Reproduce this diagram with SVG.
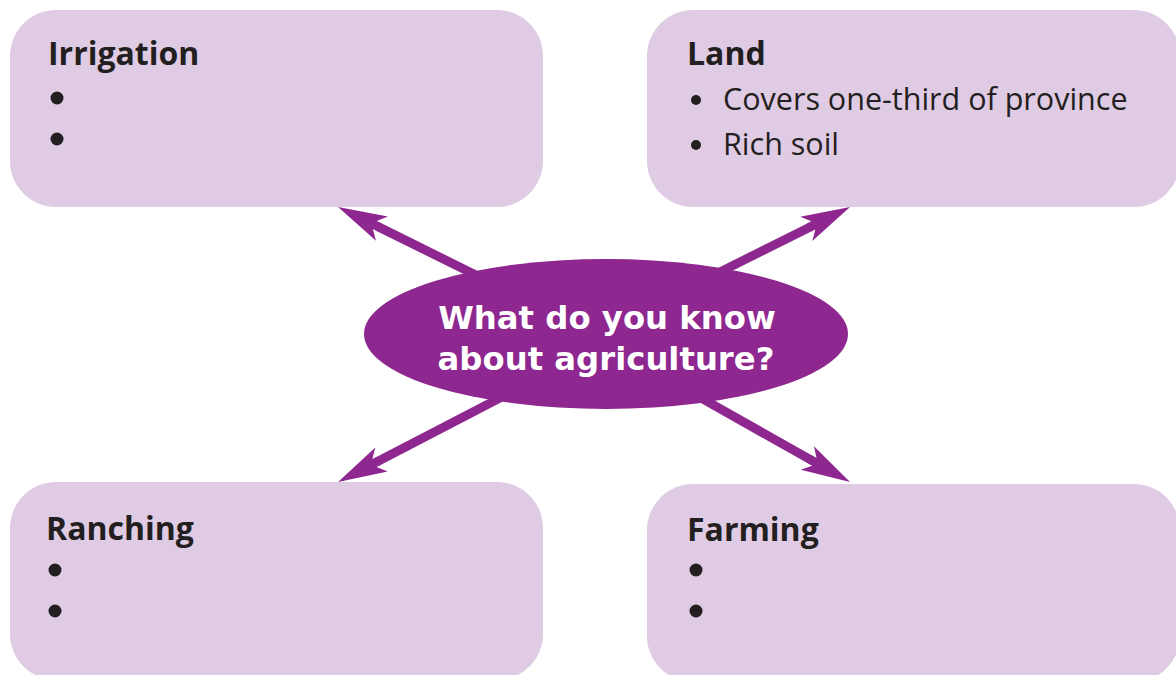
<svg xmlns="http://www.w3.org/2000/svg" width="1176" height="675" viewBox="0 0 1176 675">
  <style>
    .box { fill: #dfcbe3; }
    .title { font-family: "Open Sans", "Liberation Sans", sans-serif; font-weight: 700; font-size: 32px; fill: #231f20; }
    .item { font-family: "Open Sans", "Liberation Sans", sans-serif; font-weight: 400; font-size: 30.5px; fill: #231f20; }
    .dot { fill: #231f20; }
    .hub { fill: #8e278f; }
    .hub-text { font-family: "DejaVu Sans", "Liberation Sans", sans-serif; font-weight: 700; font-size: 32.3px; fill: #ffffff; text-anchor: middle; }
    .link { stroke: #8e278f; stroke-width: 9; fill: none; marker-end: url(#head); }
  </style>
  <defs>
    <!-- notched arrowhead; the line stops 44px short of the tip -->
    <marker id="head" markerUnits="userSpaceOnUse" viewBox="-52 -15 54 30" refX="-44" refY="0" markerWidth="54" markerHeight="30" orient="auto" overflow="visible">
      <path d="M0,0 L-49,-13.5 L-41,-4.5 L-46,-4.5 L-46,4.5 L-41,4.5 L-49,13.5 Z" fill="#8e278f"/>
    </marker>
  </defs>

  <rect width="1176" height="675" fill="#ffffff"/>

  <g id="irrigation">
    <rect class="box" x="10" y="10" width="533" height="197" rx="46" ry="46"/>
    <text class="title" x="48" y="65">Irrigation</text>
    <circle class="dot" cx="57" cy="98" r="6.5"/>
    <circle class="dot" cx="57" cy="139" r="6.5"/>
  </g>

  <g id="land">
    <rect class="box" x="647" y="10" width="533" height="197" rx="46" ry="46"/>
    <text class="title" x="687" y="65">Land</text>
    <circle class="dot" cx="696" cy="100" r="5"/>
    <text class="item" x="723" y="110">Covers one-third of province</text>
    <circle class="dot" cx="696" cy="145" r="5"/>
    <text class="item" x="723" y="155">Rich soil</text>
  </g>

  <g id="ranching">
    <rect class="box" x="10" y="482" width="533" height="198" rx="46" ry="46"/>
    <text class="title" x="46" y="540">Ranching</text>
    <circle class="dot" cx="55" cy="570" r="6.5"/>
    <circle class="dot" cx="55" cy="611" r="6.5"/>
  </g>

  <g id="farming">
    <rect class="box" x="647" y="484" width="533" height="198" rx="46" ry="46"/>
    <text class="title" x="687" y="541">Farming</text>
    <circle class="dot" cx="696" cy="570" r="6.5"/>
    <circle class="dot" cx="696" cy="611" r="6.5"/>
  </g>

  <g id="connectors">
    <line class="link" x1="500" y1="287" x2="377.5" y2="226.4"/>
    <line class="link" x1="689" y1="287.5" x2="810.7" y2="226.7"/>
    <line class="link" x1="515.6" y1="389.8" x2="377.1" y2="461.7"/>
    <line class="link" x1="684.5" y1="388.7" x2="811.7" y2="460.4"/>
  </g>

  <g id="question">
    <ellipse class="hub" cx="606" cy="334" rx="242" ry="75"/>
    <text class="hub-text" x="607" y="329">What do you know</text>
    <text class="hub-text" x="606" y="370">about agriculture?</text>
  </g>
</svg>
